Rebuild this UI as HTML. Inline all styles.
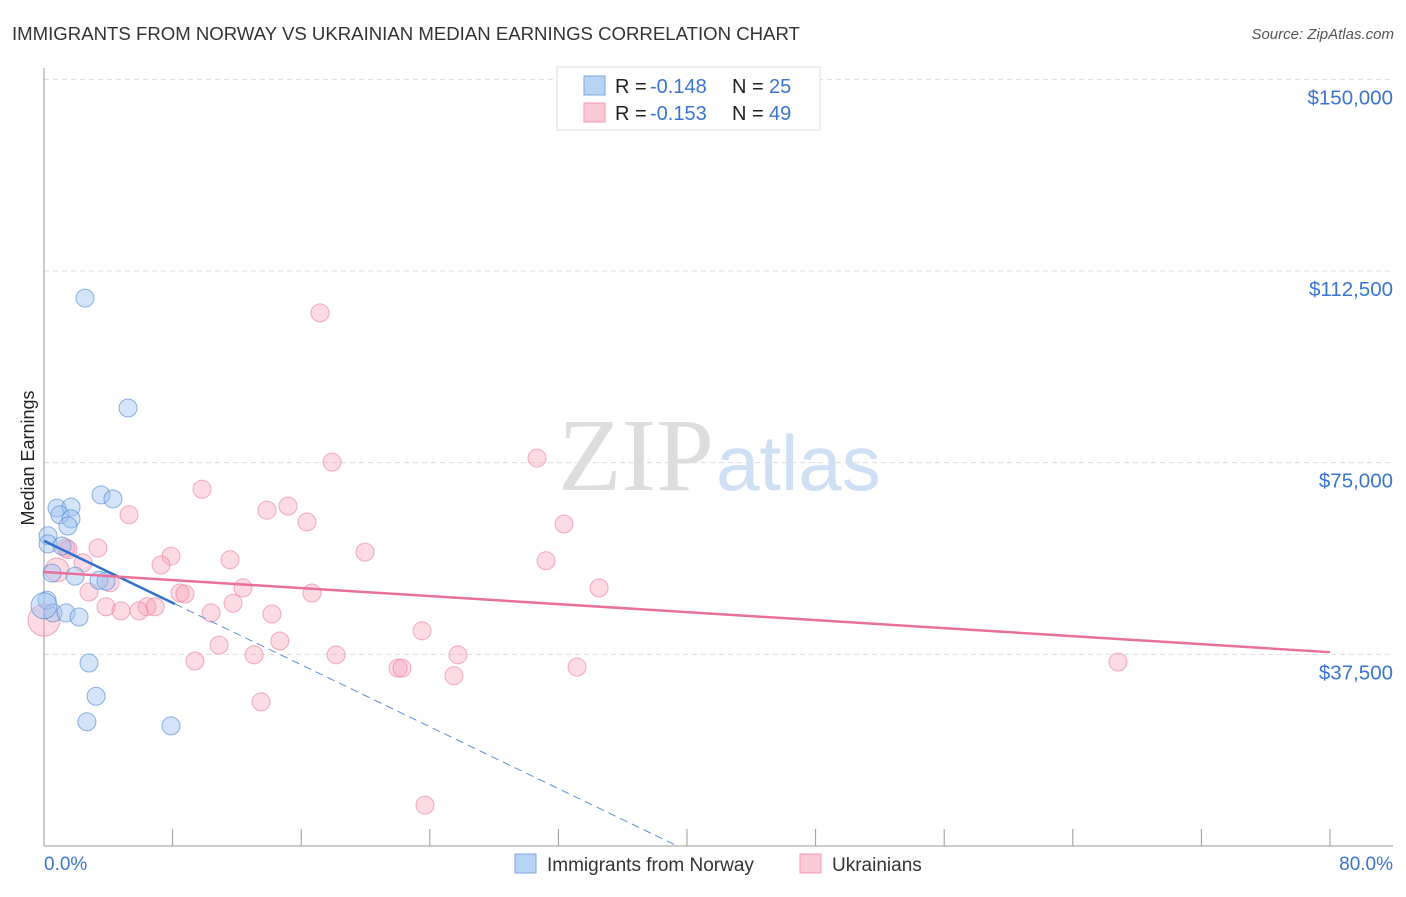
<!DOCTYPE html>
<html><head><meta charset="utf-8"><style>
body{margin:0;background:#fff;font-family:"Liberation Sans",sans-serif}
svg text{font-family:"Liberation Sans",sans-serif}
</style></head><body>
<svg id="c" width="1406" height="892">
<text x="12" y="40" font-size="18.6" fill="#333">IMMIGRANTS FROM NORWAY VS UKRAINIAN MEDIAN EARNINGS CORRELATION CHART</text>
<text x="1394" y="39" font-size="15" fill="#555" text-anchor="end" font-style="italic">Source: ZipAtlas.com</text>
<text x="34" y="458" font-size="18" fill="#222" text-anchor="middle" transform="rotate(-90 34 458)">Median Earnings</text>
<text x="714" y="490" font-size="104" fill="#ddd" text-anchor="end" font-family="Liberation Serif" style="font-family:'Liberation Serif',serif">ZIP</text>
<text x="716" y="490" font-size="78" fill="#cfe0f5">atlas</text>
<g id="grid"></g><g id="pts"></g><g id="lines"></g>
<g>
<rect x="557" y="67" width="263" height="63" fill="#fff" stroke="#ddd"/>
<rect x="584" y="76" width="21" height="19" fill="#b8d4f5" stroke="#7aa7e0"/>
<rect x="584" y="103" width="21" height="19" fill="#fbc8d6" stroke="#f09ab5"/>
<text x="615" y="93" font-size="20" fill="#222">R =</text>
<text x="650" y="93" font-size="20" fill="#3a75d0">-0.148</text>
<text x="732" y="93" font-size="20" fill="#222">N =</text>
<text x="769" y="93" font-size="20" fill="#3a75d0">25</text>
<text x="615" y="120" font-size="20" fill="#222">R =</text>
<text x="650" y="120" font-size="20" fill="#3a75d0">-0.153</text>
<text x="732" y="120" font-size="20" fill="#222">N =</text>
<text x="769" y="120" font-size="20" fill="#3a75d0">49</text>
</g>
<g>
<rect x="515" y="854" width="21" height="19" fill="#b8d4f5" stroke="#7aa7e0"/>
<text x="547" y="871" font-size="19" fill="#333">Immigrants from Norway</text>
<rect x="800" y="854" width="21" height="19" fill="#fbc8d6" stroke="#f09ab5"/>
<text x="832" y="871" font-size="19" fill="#333">Ukrainians</text>
</g>
</svg>
<script>
const yTicks=[37500,75000,112500,150000];
const yTickLabels=["$37,500","$75,000","$112,500","$150,000"];
const xTickLabels=["0.0%","80.0%"];
const norwayX=[2.55,5.23,3.55,4.29,0.81,1.68,0.99,1.68,1.49,0.25,0.25,1.12,0.5,1.93,3.42,3.86,0.19,0.56,1.37,2.18,2.8,3.24,2.67,7.9,0.0];
const norwayY=[107200,85700,68700,67900,66100,66300,64800,64000,62600,60700,59100,58700,53400,52800,52000,51800,48100,45600,45600,44800,35800,29300,24300,23500,47000];
const norwayR=[9,9,9,9,9,9,9,9,9,9,9,9,9,9,9,9,9,9,9,9,9,9,9,9,13];
const ukrX=[17.17,17.92,30.67,9.83,15.18,13.87,5.29,16.36,32.35,3.36,1.37,7.9,11.57,19.97,31.23,7.28,0.81,4.11,12.38,34.53,8.46,8.77,16.67,2.8,11.76,6.41,6.91,3.86,4.79,5.91,10.39,14.18,0.0,23.52,14.67,10.89,13.07,18.17,25.75,9.39,66.81,33.16,22.02,22.27,25.5,13.5,23.7,2.43,1.5];
const ukrY=[104300,75100,75900,69800,66500,65700,64800,63400,63000,58300,58300,56700,56000,57500,55800,55000,54000,51500,50500,50500,49500,49300,49500,49700,47500,46800,46800,46800,46000,46000,45600,45400,44200,42100,40100,39300,37400,37400,37400,36200,36000,35000,34800,34800,33300,28200,8000,55400,58000];
const ukrR=[9,9,9,9,9,9,9,9,9,9,9,9,9,9,9,9,12,9,9,9,9,9,9,9,9,9,9,9,9,9,9,9,16,9,9,9,9,9,9,9,9,9,9,9,9,9,9,9,9];
const norwayTrend=[59700,-1515];
const ukrTrend=[53600,-196];
const NS="http://www.w3.org/2000/svg";
const sx=v=>44+v*16.075, sy=v=>846-v*0.0051111;
function mk(t,a,p){const e=document.createElementNS(NS,t);for(const k in a)e.setAttribute(k,a[k]);p.appendChild(e);return e;}
const g=document.getElementById('grid');
yTicks.forEach((t,i)=>{
 const l=mk('line',{x1:44,x2:1393,y1:sy(t),y2:sy(t),stroke:'#ddd','stroke-dasharray':'5,4'},g);
 
 
 const tx=mk('text',{x:1393,y:sy(t)+25,'font-size':20.5,fill:'#3a75d0','text-anchor':'end'},g);
 tx.textContent=yTickLabels[i];
 
 
});
const ax=mk('line',{x1:44,x2:44,y1:68,y2:846,stroke:'#999'},g);


const bx=mk('line',{x1:44,x2:1393,y1:846,y2:846,stroke:'#999'},g);


for(let i=0;i<=10;i++){const t=mk('line',{x1:sx(i*8),x2:sx(i*8),y1:829,y2:846,stroke:'#999'},g);
 
 }
[[0,'start',44],[80,'end',1393]].forEach((d,i)=>{const t=mk('text',{x:d[2],y:870,'font-size':19,fill:'#3a75d0','text-anchor':d[1]},g);t.textContent=xTickLabels[i];
 
 });
const p=document.getElementById('pts');
ukrX.forEach((x,i)=>{const c=mk('circle',{cx:sx(x),cy:sy(ukrY[i]),r:ukrR[i],fill:'rgba(246,160,186,0.38)',stroke:'rgba(235,120,155,0.6)'},p);
 
 });
norwayX.forEach((x,i)=>{const c=mk('circle',{cx:sx(x),cy:sy(norwayY[i]),r:norwayR[i],fill:'rgba(160,195,240,0.45)',stroke:'rgba(70,130,210,0.6)'},p);
 
 });
const L=document.getElementById('lines');
const f=(tr,x)=>tr[0]+tr[1]*x;
const zx=-norwayTrend[0]/norwayTrend[1];
let a=mk('line',{x1:sx(8.15),y1:sy(f(norwayTrend,8.15)),x2:sx(zx),y2:sy(0),stroke:'#5b8fd8','stroke-width':1,'stroke-dasharray':'8,5'},L);


a=mk('line',{x1:sx(0),y1:sy(f(norwayTrend,0)),x2:sx(8.15),y2:sy(f(norwayTrend,8.15)),stroke:'#2f6fd0','stroke-width':2.5},L);


a=mk('line',{x1:sx(0),y1:sy(f(ukrTrend,0)),x2:sx(80),y2:sy(f(ukrTrend,80)),stroke:'#e8709a','stroke-width':2.5},L);


</script>
</body></html>
